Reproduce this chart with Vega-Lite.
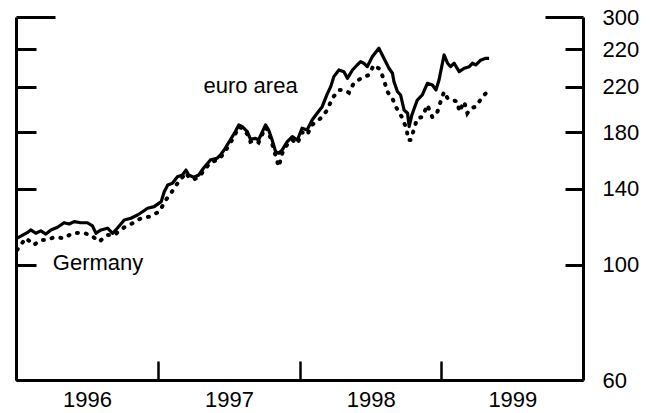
{
  "$schema": "https://vega.github.io/schema/vega-lite/v6.json",
  "width": 567,
  "height": 363,
  "autosize": {"type": "none"},
  "padding": {"left": 16, "top": 17, "right": 71, "bottom": 33},
  "config": {
    "view": {"stroke": null},
    "font": "Liberation Sans",
    "axis": {
      "grid": false,
      "domainColor": "black",
      "tickColor": "black",
      "labelColor": "black",
      "domainWidth": 3,
      "tickWidth": 3,
      "labelFontSize": 22,
      "labelFont": "Liberation Sans",
      "title": null
    }
  },
  "datasets": {
    "euro": [
      {"date": "1996-01-04", "value": 112.5},
      {"date": "1996-01-30", "value": 115.3},
      {"date": "1996-02-08", "value": 116.7},
      {"date": "1996-02-21", "value": 115.0},
      {"date": "1996-03-05", "value": 116.2},
      {"date": "1996-03-18", "value": 114.6},
      {"date": "1996-03-31", "value": 116.7},
      {"date": "1996-04-17", "value": 118.1},
      {"date": "1996-05-04", "value": 120.5},
      {"date": "1996-05-17", "value": 119.8},
      {"date": "1996-05-30", "value": 121.1},
      {"date": "1996-06-16", "value": 120.5},
      {"date": "1996-07-03", "value": 120.5},
      {"date": "1996-07-16", "value": 118.8},
      {"date": "1996-07-25", "value": 115.0},
      {"date": "1996-08-07", "value": 116.7},
      {"date": "1996-08-24", "value": 117.6},
      {"date": "1996-09-06", "value": 115.0},
      {"date": "1996-09-18", "value": 117.6},
      {"date": "1996-10-06", "value": 122.0},
      {"date": "1996-10-23", "value": 122.9},
      {"date": "1996-11-09", "value": 124.7},
      {"date": "1996-11-22", "value": 126.5},
      {"date": "1996-12-05", "value": 128.5},
      {"date": "1996-12-22", "value": 129.4},
      {"date": "1997-01-09", "value": 132.3},
      {"date": "1997-01-17", "value": 138.3},
      {"date": "1997-01-26", "value": 142.4},
      {"date": "1997-02-07", "value": 143.5},
      {"date": "1997-02-20", "value": 147.8},
      {"date": "1997-03-05", "value": 148.9},
      {"date": "1997-03-14", "value": 152.2},
      {"date": "1997-03-21", "value": 148.9},
      {"date": "1997-04-03", "value": 147.4},
      {"date": "1997-04-16", "value": 148.9},
      {"date": "1997-04-28", "value": 153.4},
      {"date": "1997-05-16", "value": 159.2},
      {"date": "1997-06-02", "value": 160.4},
      {"date": "1997-06-11", "value": 162.7},
      {"date": "1997-06-23", "value": 167.6},
      {"date": "1997-07-06", "value": 173.9},
      {"date": "1997-07-19", "value": 180.4},
      {"date": "1997-07-28", "value": 185.9},
      {"date": "1997-08-06", "value": 184.5},
      {"date": "1997-08-19", "value": 180.4},
      {"date": "1997-08-27", "value": 174.5},
      {"date": "1997-09-09", "value": 175.2},
      {"date": "1997-09-17", "value": 173.9},
      {"date": "1997-10-05", "value": 185.9},
      {"date": "1997-10-13", "value": 181.8},
      {"date": "1997-10-22", "value": 173.9},
      {"date": "1997-10-31", "value": 165.1},
      {"date": "1997-11-08", "value": 164.0},
      {"date": "1997-11-17", "value": 166.4},
      {"date": "1997-11-30", "value": 172.6},
      {"date": "1997-12-13", "value": 176.5},
      {"date": "1997-12-26", "value": 173.9},
      {"date": "1998-01-07", "value": 183.2},
      {"date": "1998-01-20", "value": 181.8},
      {"date": "1998-02-02", "value": 190.0},
      {"date": "1998-02-15", "value": 195.8},
      {"date": "1998-02-28", "value": 201.6},
      {"date": "1998-03-13", "value": 213.3},
      {"date": "1998-03-22", "value": 220.3},
      {"date": "1998-03-30", "value": 230.3},
      {"date": "1998-04-12", "value": 237.2},
      {"date": "1998-04-25", "value": 235.4},
      {"date": "1998-05-04", "value": 228.6},
      {"date": "1998-05-17", "value": 237.2},
      {"date": "1998-05-29", "value": 242.5},
      {"date": "1998-06-07", "value": 246.1},
      {"date": "1998-06-15", "value": 244.4},
      {"date": "1998-06-24", "value": 240.7},
      {"date": "1998-07-07", "value": 251.6},
      {"date": "1998-07-24", "value": 261.2},
      {"date": "1998-08-06", "value": 249.8},
      {"date": "1998-08-19", "value": 239.0},
      {"date": "1998-08-28", "value": 233.8},
      {"date": "1998-09-01", "value": 225.2},
      {"date": "1998-09-10", "value": 215.4},
      {"date": "1998-09-18", "value": 212.3},
      {"date": "1998-09-27", "value": 198.6},
      {"date": "1998-10-06", "value": 195.8},
      {"date": "1998-10-10", "value": 184.5},
      {"date": "1998-10-17", "value": 194.3},
      {"date": "1998-10-31", "value": 207.6},
      {"date": "1998-11-13", "value": 212.3},
      {"date": "1998-11-26", "value": 223.6},
      {"date": "1998-12-09", "value": 221.9},
      {"date": "1998-12-18", "value": 217.1},
      {"date": "1998-12-26", "value": 226.9},
      {"date": "1999-01-08", "value": 253.5},
      {"date": "1999-01-17", "value": 244.4},
      {"date": "1999-01-25", "value": 240.7},
      {"date": "1999-02-03", "value": 244.4},
      {"date": "1999-02-16", "value": 235.4},
      {"date": "1999-03-01", "value": 239.0},
      {"date": "1999-03-14", "value": 240.7},
      {"date": "1999-03-22", "value": 244.4},
      {"date": "1999-03-31", "value": 242.5},
      {"date": "1999-04-13", "value": 248.0},
      {"date": "1999-04-26", "value": 249.8},
      {"date": "1999-05-04", "value": 249.8}
    ],
    "germany": [
      {"date": "1996-01-04", "value": 106.8},
      {"date": "1996-01-26", "value": 112.6},
      {"date": "1996-02-16", "value": 109.2},
      {"date": "1996-03-05", "value": 111.6},
      {"date": "1996-03-22", "value": 111.6},
      {"date": "1996-04-08", "value": 113.0},
      {"date": "1996-05-04", "value": 112.5},
      {"date": "1996-05-25", "value": 115.0},
      {"date": "1996-06-20", "value": 115.3},
      {"date": "1996-07-12", "value": 114.1},
      {"date": "1996-08-02", "value": 110.8},
      {"date": "1996-08-24", "value": 114.1},
      {"date": "1996-09-10", "value": 114.1},
      {"date": "1996-10-06", "value": 118.1},
      {"date": "1996-10-27", "value": 120.2},
      {"date": "1996-11-18", "value": 122.9},
      {"date": "1996-12-09", "value": 123.8},
      {"date": "1997-01-04", "value": 126.5},
      {"date": "1997-01-21", "value": 133.3},
      {"date": "1997-02-03", "value": 137.3},
      {"date": "1997-02-20", "value": 143.5},
      {"date": "1997-03-05", "value": 147.5},
      {"date": "1997-03-14", "value": 150.5},
      {"date": "1997-03-21", "value": 147.5},
      {"date": "1997-04-03", "value": 146.0},
      {"date": "1997-04-16", "value": 147.5},
      {"date": "1997-04-28", "value": 151.5},
      {"date": "1997-05-16", "value": 157.5},
      {"date": "1997-06-02", "value": 159.0},
      {"date": "1997-06-11", "value": 161.0},
      {"date": "1997-06-23", "value": 165.5},
      {"date": "1997-07-06", "value": 171.5},
      {"date": "1997-07-19", "value": 178.5},
      {"date": "1997-07-28", "value": 184.5},
      {"date": "1997-08-06", "value": 183.0},
      {"date": "1997-08-19", "value": 178.5},
      {"date": "1997-08-27", "value": 172.5},
      {"date": "1997-09-09", "value": 173.5},
      {"date": "1997-09-17", "value": 172.0},
      {"date": "1997-10-05", "value": 184.0},
      {"date": "1997-10-13", "value": 180.0},
      {"date": "1997-10-22", "value": 171.0},
      {"date": "1997-10-31", "value": 162.0},
      {"date": "1997-11-08", "value": 154.5},
      {"date": "1997-11-17", "value": 164.0},
      {"date": "1997-11-30", "value": 170.5},
      {"date": "1997-12-13", "value": 174.0},
      {"date": "1997-12-26", "value": 171.0},
      {"date": "1998-01-07", "value": 180.0},
      {"date": "1998-01-20", "value": 177.8},
      {"date": "1998-02-02", "value": 186.0},
      {"date": "1998-02-24", "value": 191.5},
      {"date": "1998-03-13", "value": 198.6},
      {"date": "1998-03-26", "value": 209.2},
      {"date": "1998-04-12", "value": 217.1},
      {"date": "1998-04-25", "value": 217.1},
      {"date": "1998-05-08", "value": 214.5},
      {"date": "1998-05-21", "value": 224.2},
      {"date": "1998-06-11", "value": 229.2},
      {"date": "1998-06-28", "value": 232.0},
      {"date": "1998-07-11", "value": 242.5},
      {"date": "1998-07-27", "value": 237.9},
      {"date": "1998-08-06", "value": 226.9},
      {"date": "1998-08-15", "value": 215.4},
      {"date": "1998-08-28", "value": 209.2},
      {"date": "1998-09-03", "value": 203.1},
      {"date": "1998-09-23", "value": 191.5},
      {"date": "1998-10-04", "value": 181.8},
      {"date": "1998-10-07", "value": 173.9},
      {"date": "1998-10-14", "value": 173.9},
      {"date": "1998-10-31", "value": 191.5},
      {"date": "1998-11-13", "value": 192.6},
      {"date": "1998-11-26", "value": 203.1},
      {"date": "1998-12-09", "value": 192.3},
      {"date": "1998-12-22", "value": 197.2},
      {"date": "1998-12-30", "value": 206.1},
      {"date": "1999-01-08", "value": 215.4},
      {"date": "1999-01-17", "value": 209.2},
      {"date": "1999-01-30", "value": 207.6},
      {"date": "1999-02-12", "value": 206.1},
      {"date": "1999-02-16", "value": 197.2},
      {"date": "1999-03-01", "value": 206.1},
      {"date": "1999-03-09", "value": 195.8},
      {"date": "1999-03-18", "value": 200.1},
      {"date": "1999-03-31", "value": 201.6},
      {"date": "1999-04-17", "value": 210.7},
      {"date": "1999-04-30", "value": 215.4}
    ],
    "labels": [
      {"date": "1997-04-28", "value": 213.9, "label": "euro area"},
      {"date": "1996-04-05", "value": 97.7, "label": "Germany"}
    ]
  },
  "layer": [
    {
      "data": {"name": "euro"},
      "mark": {"type": "line", "color": "black", "strokeWidth": 3.2, "strokeJoin": "round"},
      "encoding": {
        "x": {
          "field": "date",
          "type": "temporal",
          "scale": {"domain": [{"year": 1996, "month": 1, "date": 1}, {"year": 2000, "month": 1, "date": 1}], "nice": false},
          "axis": {
            "values": [
              {"year": 1996, "month": 1, "date": 1},
              {"year": 1997, "month": 1, "date": 1},
              {"year": 1998, "month": 1, "date": 1},
              {"year": 1999, "month": 1, "date": 1}
            ],
            "format": "%Y",
            "tickSize": -19,
            "tickWidth": 2.5,
            "labelPadding": 28,
            "labelOffset": 71,
            "labelFlush": false,
            "labelOverlap": false,
            "labelBound": false,
            "title": null
          }
        },
        "y": {
          "field": "value",
          "type": "quantitative",
          "scale": {"type": "log", "domain": [60, 300], "nice": false, "zero": false},
          "axis": {
            "orient": "left",
            "values": [60, 100, 140, 180, 220, 260, 300],
            "labels": false,
            "tickSize": {"condition": {"test": "datum.value == 300", "value": -39}, "value": -20},
            "title": null
          }
        }
      }
    },
    {
      "data": {"name": "germany"},
      "mark": {"type": "line", "color": "black", "strokeWidth": 4, "strokeDash": [1, 8], "strokeCap": "round"},
      "encoding": {
        "x": {"field": "date", "type": "temporal"},
        "y": {
          "field": "value",
          "type": "quantitative",
          "axis": {
            "orient": "right",
            "values": [60, 100, 140, 180, 220, 260, 300],
            "labels": false,
            "tickSize": {"condition": {"test": "datum.value == 300", "value": -38}, "value": -18},
            "title": null
          }
        }
      }
    },
    {
      "data": {"name": "labels"},
      "mark": {"type": "text", "align": "left", "baseline": "alphabetic", "fontSize": 22, "font": "Liberation Sans", "color": "black"},
      "encoding": {
        "x": {"field": "date", "type": "temporal"},
        "y": {
          "field": "value",
          "type": "quantitative",
          "axis": {
            "orient": "right",
            "values": [60, 100, 140, 180, 220, 260, 300],
            "ticks": false,
            "domain": false,
            "labelPadding": 19,
            "labelBaseline": "middle",
            "labelExpr": "datum.value == 260 ? '220' : datum.label",
            "title": null
          }
        },
        "text": {"field": "label"}
      }
    }
  ],
  "resolve": {"axis": {"y": "independent"}}
}
